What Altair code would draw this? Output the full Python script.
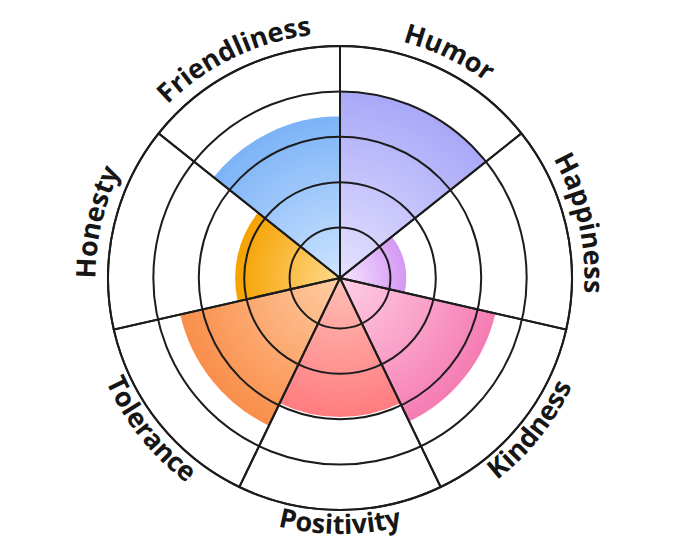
import math
import altair as alt
import pandas as pd

# ---------------- data ----------------
categories = ["Humor", "Happiness", "Kindness", "Positivity", "Tolerance", "Honesty", "Friendliness"]
values = [4.0, 1.35, 3.4, 2.95, 3.5, 2.2, 3.45]
outer_colors = ["#a8a8f8", "#d498f4", "#f57cb3", "#ff7c80", "#f98e4a", "#f6a200", "#7cb3f7"]
inner_colors = ["#e6e2ff", "#f7e4ff", "#ffd0e4", "#ffbfb6", "#ffcda4", "#ffd98c", "#cde4ff"]
ring_ticks = [1, 2, 3, 4, 5]

# ---------------- style / layout ----------------
N = len(categories)
R0, RMAX = 5.0, 232.0          # radius scale range (px)
VMAX = 5.0
UNIT = (RMAX - R0) / VMAX
FS = 27
LINE = "#1c1c1c"

tscale = alt.Scale(domain=[0, N], range=[0, 2 * math.pi])
rscale = alt.Scale(domain=[0, VMAX], range=[R0, RMAX])

# approximate Open Sans Bold advance widths (em)
CW = {"H": 0.785, "u": 0.65, "m": 0.965, "o": 0.624, "r": 0.45, "a": 0.59, "p": 0.635,
      "i": 0.305, "n": 0.65, "e": 0.59, "s": 0.505, "K": 0.675, "d": 0.635, "P": 0.628,
      "t": 0.423, "v": 0.569, "y": 0.569, "T": 0.569, "l": 0.305, "c": 0.497, "F": 0.558}

df = pd.DataFrame({"cat": categories, "value": values,
                   "t0": list(range(N)), "t1": [i + 1 for i in range(N)]})


def wedge_gradient(k, v, c_in, c_out):
    a0 = 2 * math.pi * k / N
    a1 = 2 * math.pi * (k + 1) / N
    R = R0 + v * UNIT
    xs = [0.0, R * math.sin(a0), R * math.sin(a1)]
    ys = [0.0, -R * math.cos(a0), -R * math.cos(a1)]
    for q in range(5):
        a = q * math.pi / 2
        if a0 < a < a1:
            xs.append(R * math.sin(a))
            ys.append(-R * math.cos(a))
    minx, maxx, miny, maxy = min(xs), max(xs), min(ys), max(ys)
    w, h = maxx - minx, maxy - miny
    s = max(w, h)
    ox = minx + (w - s) / 2
    oy = miny + (h - s) / 2
    u, vv = -ox / s, -oy / s
    return {"gradient": "radial",
            "stops": [{"offset": 0, "color": c_in}, {"offset": 1, "color": c_out}],
            "x1": u, "y1": vv, "r1": 0, "x2": u, "y2": vv, "r2": R / s}


layers = []
for k, cat in enumerate(categories):
    layers.append(
        alt.Chart(df).transform_filter(alt.datum.cat == cat)
        .mark_arc(fill=wedge_gradient(k, values[k], inner_colors[k], outer_colors[k]), strokeWidth=0)
        .encode(theta=alt.Theta("t0:Q", scale=tscale, stack=False),
                theta2="t1:Q",
                radius=alt.Radius("value:Q", scale=rscale),
                radius2=alt.value(0))
    )

rings_df = pd.DataFrame({"ring": ring_ticks})
rings = (alt.Chart(rings_df).transform_calculate(a0="0", a1=str(N))
         .mark_arc(fillOpacity=0, stroke=LINE, strokeWidth=2)
         .encode(theta=alt.Theta("a0:Q", scale=tscale, stack=False), theta2="a1:Q",
                 radius=alt.Radius("ring:Q", scale=rscale),
                 radius2=alt.value(0)))

spokes = (alt.Chart(df).transform_calculate(rmax=str(VMAX))
          .mark_arc(fillOpacity=0, stroke=LINE, strokeWidth=2)
          .encode(theta=alt.Theta("t0:Q", scale=tscale, stack=False), theta2="t1:Q",
                  radius=alt.Radius("rmax:Q", scale=rscale),
                  radius2=alt.value(0)))

# curved labels: one text mark per character
rows = []
for k, lab in enumerate(categories):
    mid = 2 * math.pi * (k + 0.5) / N
    bottom = math.pi / 2 < mid < 3 * math.pi / 2
    rb = 256.0 if bottom else 244.5
    widths = [CW.get(ch, 0.58) * FS for ch in lab]
    total = sum(widths)
    cum = 0.0
    for ch, w in zip(lab, widths):
        off = (cum + w / 2 - total / 2) / rb
        ang = mid - off if bottom else mid + off
        rot = math.degrees(ang) + (180 if bottom else 0)
        rows.append({"ch": ch, "t": ang / (2 * math.pi) * N, "r": (rb - R0) / UNIT, "rot": rot % 360})
        cum += w
chars_df = pd.DataFrame(rows)

labels = (alt.Chart(chars_df)
          .mark_text(font="Open Sans", fontWeight="bold", fontSize=FS, align="center",
                     baseline="alphabetic", color="#161616")
          .encode(theta=alt.Theta("t:Q", scale=tscale, stack=False),
                  radius=alt.Radius("r:Q", scale=rscale),
                  text="ch:N",
                  angle=alt.Angle("rot:Q", scale=None)))

chart = (alt.layer(*layers, rings, spokes, labels)
         .properties(width=664, height=540, padding=0,
                     autosize=alt.AutoSizeParams(type="none"))
         .configure_view(stroke=None)
         .configure(background="white"))

chart.save("out.html", embed_options={"renderer": "svg", "actions": False})
